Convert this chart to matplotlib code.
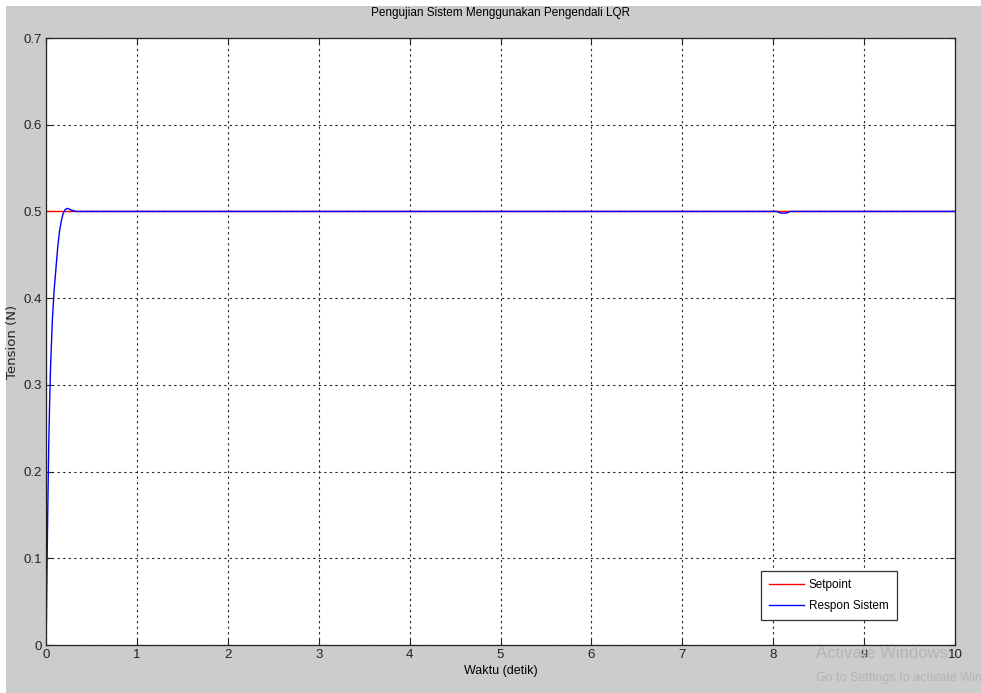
import matplotlib
matplotlib.use("Agg")
import matplotlib.pyplot as plt

t_set = [0.0, 10.0]
y_set = [0.5, 0.5]

t_resp = [0.0, 0.005, 0.01, 0.02, 0.03, 0.04, 0.05, 0.07, 0.09, 0.11, 0.13,
          0.15, 0.17, 0.19, 0.21, 0.23, 0.25, 0.28, 0.31, 0.34, 8.04, 8.07,
          8.09, 8.13, 8.16, 8.18, 10.0]
y_resp = [0.0, 0.03, 0.08, 0.16, 0.23, 0.28, 0.32, 0.375, 0.41, 0.435, 0.46,
          0.478, 0.49, 0.498, 0.502, 0.5035, 0.503, 0.5015, 0.5005, 0.5, 0.5, 0.4985,
          0.498, 0.498, 0.4985, 0.5, 0.5]

x_ticks = list(range(0, 11))
y_ticks = [0, 0.1, 0.2, 0.3, 0.4, 0.5, 0.6, 0.7]
y_tick_labels = ["0", "0.1", "0.2", "0.3", "0.4", "0.5", "0.6", "0.7"]

plt.rcParams["font.family"] = ["Liberation Sans Narrow", "Liberation Sans", "DejaVu Sans"]

fig = plt.figure(figsize=(9.81, 6.93), dpi=100, facecolor="white")
# grey MATLAB figure background with a thin white strip top/left
bg = plt.Rectangle((6 / 981, 0), 1, 1 - 6 / 693, transform=fig.transFigure,
                   facecolor="#cccccc", edgecolor="none", zorder=-10)
fig.add_artist(bg)

ax = fig.add_axes([46 / 981, (693 - 645) / 693, 909 / 981, 607 / 693])
ax.set_facecolor("white")

ax.plot(t_set, y_set, color="red", lw=1.0, label="Setpoint")
ax.plot(t_resp, y_resp, color="blue", lw=1.0, label="Respon Sistem")

ax.set_xlim(0, 10)
ax.set_ylim(0, 0.7)
ax.set_xticks(x_ticks)
ax.set_yticks(y_ticks)
ax.set_yticklabels(y_tick_labels)
ax.tick_params(direction="in", length=4, width=0.8, labelsize=9.5,
               top=True, right=True, colors="#222222", pad=3)
for s in ax.spines.values():
    s.set_color("#222222")
    s.set_linewidth(0.9)

ax.grid(True, color="#222222", linestyle=(0, (2, 3)), linewidth=0.8)

ax.set_title("Pengujian Sistem Menggunakan Pengendali LQR", fontsize=8.5, pad=16)
ax.set_xlabel("Waktu (detik)", fontsize=9, labelpad=3)
ax.set_ylabel("Tension (N)", fontsize=9.5, family=["DejaVu Sans"], labelpad=3,
              color="#222222")

leg = ax.legend(loc="lower right", bbox_to_anchor=((897 - 46) / 909, 25 / 607),
                borderaxespad=0, fancybox=False, framealpha=1, fontsize=8.5,
                handlelength=3.0, handletextpad=0.4, borderpad=0.7,
                labelspacing=0.75)
leg.get_frame().set_edgecolor("#333333")
leg.get_frame().set_linewidth(0.9)

# screenshot watermark
fig.text(816 / 981, 1 - 654 / 693, "Activate Windows", fontsize=12,
         color="#b4b4b4", va="center", zorder=1)
fig.text(816 / 981, 1 - 678 / 693, "Go to Settings to activate Windows.",
         fontsize=9, color="#b4b4b4", va="center", zorder=1)

fig.savefig("out.png", dpi=100, facecolor=fig.get_facecolor())
